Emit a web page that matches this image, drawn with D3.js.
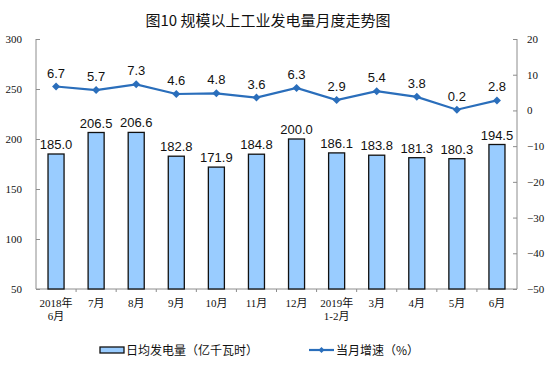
<!DOCTYPE html>
<html><head><meta charset="utf-8">
<script src="https://cdn.jsdelivr.net/npm/d3@7"></script>
<style>body{margin:0;background:#fff}svg{display:block}</style>
</head><body>
<script>
const categories = [["2018年","6月"],["7月"],["8月"],["9月"],["10月"],["11月"],["12月"],["2019年","1-2月"],["3月"],["4月"],["5月"],["6月"]];
const dailyOutput = [185.0,206.5,206.6,182.8,171.9,184.8,200.0,186.1,183.8,181.3,180.3,194.5];
const growth = [6.7,5.7,7.3,4.6,4.8,3.6,6.3,2.9,5.4,3.8,0.2,2.8];
const leftTicks = [50,100,150,200,250,300];
const rightTicks = [-50,-40,-30,-20,-10,0,10,20];
const title = "图10 规模以上工业发电量月度走势图";
const legendBar = "日均发电量（亿千瓦时）";
const legendLine = "当月增速（%）";

const W=554,H=368, L=36, R=517, T=39, B=289;
const svg=d3.select("body").append("svg").attr("width",W).attr("height",H);
const idx=d3.range(categories.length);
const x=d3.scaleBand().domain(idx).range([L,R]).paddingInner(0.6).paddingOuter(0.3);
const xs=d3.scaleBand().domain(idx).range([L,R]);
const yL=d3.scaleLinear().domain([50,300]).range([B,T]);
const yR=d3.scaleLinear().domain([-50,20]).range([B,T]);
const axisColor="#8c8c8c";
const serif="'Liberation Serif','Times New Roman','Noto Sans CJK SC',serif";
const sans="'Liberation Sans',Arial,sans-serif";
const cjk="'Noto Sans CJK SC',sans-serif";

svg.append("text").attr("x",268).attr("y",26).attr("text-anchor","middle")
  .attr("font-family",cjk).attr("font-size",15).attr("font-weight",400).attr("fill","#111").text(title);

// left axis
const gl=svg.append("g").attr("transform",`translate(${L},0)`)
  .call(d3.axisRight(yL).tickValues(leftTicks).tickSize(4).tickFormat(d3.format("d")));
gl.select(".domain").attr("stroke",axisColor).attr("d",`M0,${T}V${B}`);
gl.selectAll(".tick line").attr("stroke",axisColor);
gl.selectAll(".tick text").attr("x",-14).attr("text-anchor","end").attr("font-family",serif).attr("font-size",11).attr("fill","#111");
// right axis
const gr=svg.append("g").attr("transform",`translate(${R},0)`)
  .call(d3.axisLeft(yR).tickValues(rightTicks).tickSize(4).tickFormat(d3.format("d")));
gr.select(".domain").attr("stroke",axisColor).attr("d",`M0,${T}V${B}`);
gr.selectAll(".tick line").attr("stroke",axisColor);
gr.selectAll(".tick text").attr("x",10).attr("text-anchor","start").attr("font-family",serif).attr("font-size",11).attr("fill","#111");
// bottom axis
const gb=svg.append("g").attr("transform",`translate(0,${B})`);
gb.append("line").attr("x1",L).attr("x2",R).attr("stroke",axisColor);
gb.selectAll("line.t").data(d3.range(1,categories.length)).join("line").attr("class","t")
  .attr("x1",d=>xs(d)).attr("x2",d=>xs(d)).attr("y1",0).attr("y2",3).attr("stroke",axisColor);
const xl=gb.selectAll("text").data(idx).join("text")
  .attr("font-family",serif).attr("font-size",11).attr("fill","#111").attr("text-anchor","middle");
xl.each(function(i){
  const t=d3.select(this);
  categories[i].forEach((s,k)=>t.append("tspan").attr("x",x(i)+x.bandwidth()/2).attr("y",18+k*13).text(s));
});

// bars
svg.selectAll("rect.bar").data(dailyOutput).join("rect").attr("class","bar")
  .attr("x",(d,i)=>x(i)).attr("width",x.bandwidth())
  .attr("y",d=>yL(d)).attr("height",d=>B-yL(d))
  .attr("fill","#99ccff").attr("stroke","#111").attr("stroke-width",1.3);
svg.selectAll("text.bl").data(dailyOutput).join("text").attr("class","bl")
  .attr("x",(d,i)=>x(i)+x.bandwidth()/2).attr("y",d=>yL(d)-5)
  .attr("text-anchor","middle").attr("font-family",sans).attr("font-size",13).attr("fill","#111")
  .text(d=>d.toFixed(1));

// line
const lineColor="#2a6ebb";
const cx=i=>x(i)+x.bandwidth()/2;
svg.append("path").datum(growth).attr("fill","none").attr("stroke",lineColor).attr("stroke-width",2.2)
  .attr("d",d3.line().x((d,i)=>cx(i)).y(d=>yR(d)));
svg.selectAll("path.mk").data(growth).join("path").attr("class","mk")
  .attr("transform",(d,i)=>`translate(${cx(i)},${yR(d)})`)
  .attr("d","M0,-4L4,0L0,4L-4,0Z").attr("fill",lineColor);
svg.selectAll("text.ll").data(growth).join("text").attr("class","ll")
  .attr("x",(d,i)=>cx(i)).attr("y",d=>yR(d)-9)
  .attr("text-anchor","middle").attr("font-family",sans).attr("font-size",13).attr("fill","#111")
  .text(d=>d.toFixed(1));

// legend
const lg=svg.append("g");
lg.append("rect").attr("x",100).attr("y",347).attr("width",24).attr("height",6)
  .attr("fill","#99ccff").attr("stroke","#111").attr("stroke-width",1.3);
lg.append("text").attr("x",126).attr("y",355).attr("font-family",cjk).attr("font-size",12).attr("fill","#111").text(legendBar);
lg.append("line").attr("x1",309).attr("x2",334).attr("y1",350).attr("y2",350).attr("stroke",lineColor).attr("stroke-width",2.2);
lg.append("path").attr("transform","translate(321.5,350)").attr("d","M0,-3L3,0L0,3L-3,0Z").attr("fill",lineColor);
lg.append("text").attr("x",336).attr("y",355).attr("font-family",cjk).attr("font-size",12).attr("fill","#111").text(legendLine);
</script>
</body></html>
